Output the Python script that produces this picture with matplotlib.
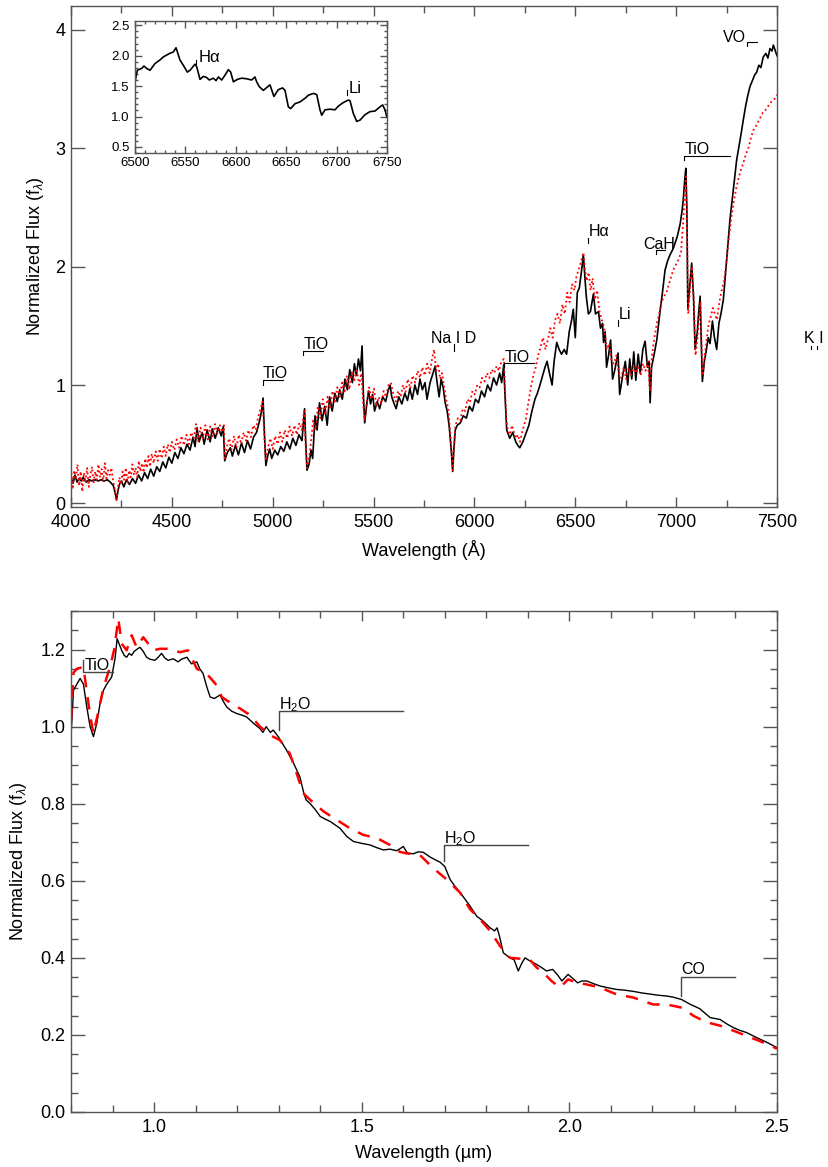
import matplotlib
matplotlib.use("Agg")
import matplotlib.pyplot as plt
from matplotlib.ticker import MultipleLocator, FormatStrFormatter

plt.rcParams['font.family'] = ['Liberation Sans Narrow', 'Liberation Sans', 'DejaVu Sans']
plt.rcParams['mathtext.fontset'] = 'custom'
plt.rcParams['mathtext.rm'] = 'Liberation Sans'
plt.rcParams['mathtext.it'] = 'Liberation Sans:italic'
plt.rcParams['mathtext.bf'] = 'Liberation Sans:bold'

# ---------------- optical spectrum (Angstrom) ----------------
opt_wave = [4000, 4010, 4020, 4030, 4040, 4050, 4060, 4075, 4090, 4105, 4120, 4135, 4150, 4165, 4180, 4195,
            4210, 4220, 4226, 4232, 4240, 4250, 4262, 4275, 4290, 4305, 4320, 4335, 4350, 4365, 4380, 4395,
            4410, 4425, 4440, 4455, 4470, 4485, 4500, 4515, 4530, 4545, 4560, 4575, 4590, 4605, 4615, 4625,
            4635, 4650, 4660, 4675, 4690, 4700, 4715, 4730, 4745, 4755, 4762, 4775, 4790, 4800, 4815, 4830,
            4845, 4860, 4875, 4890, 4905, 4920, 4935, 4945, 4952, 4960, 4966, 4975, 4985, 4995, 5010, 5025,
            5040, 5055, 5070, 5085, 5100, 5115, 5130, 5145, 5158, 5163, 5170, 5180, 5190, 5198, 5210, 5220,
            5232, 5245, 5258, 5270, 5282, 5295, 5308, 5320, 5332, 5345, 5358, 5370, 5382, 5395, 5405, 5415,
            5425, 5435, 5443, 5450, 5456, 5465, 5475, 5485, 5495, 5505, 5518, 5530, 5545, 5560, 5572, 5582,
            5590, 5600, 5612, 5625, 5640, 5655, 5668, 5680, 5692, 5705, 5718, 5730, 5742, 5755, 5765, 5780,
            5795, 5805, 5815, 5825, 5835, 5845, 5855, 5865, 5875, 5885, 5892, 5898, 5905, 5915, 5930, 5945,
            5960, 5975, 5990, 6005, 6020, 6035, 6050, 6065, 6080, 6095, 6110, 6125, 6135, 6145, 6152, 6160,
            6175, 6190, 6205, 6215, 6225, 6240, 6255, 6270, 6285, 6300, 6312, 6325, 6338, 6350, 6360, 6372,
            6385, 6395, 6408, 6420, 6432, 6445, 6457, 6470, 6482, 6490, 6500, 6510, 6520, 6530, 6540, 6548,
            6555, 6565, 6575, 6590, 6600, 6615, 6625, 6635, 6640, 6648, 6655, 6665, 6675, 6685, 6695, 6712,
            6720, 6735, 6748, 6760, 6770, 6780, 6790, 6800, 6812, 6822, 6835, 6846, 6858, 6866, 6871, 6878,
            6890, 6904, 6912, 6920, 6932, 6945, 6958, 6970, 6985, 6995, 7005, 7020, 7030, 7036, 7042, 7048,
            7053, 7058, 7066, 7077, 7086, 7094, 7105, 7112, 7119, 7124, 7130, 7140, 7150, 7159, 7168, 7180,
            7190, 7201, 7212, 7222, 7234, 7245, 7255, 7267, 7280, 7290, 7300, 7312, 7322, 7333, 7345, 7356,
            7366, 7378, 7390, 7399, 7410, 7420, 7432, 7445, 7455, 7465, 7475, 7482, 7490, 7500]
opt_flux = [0.22, 0.17, 0.24, 0.18, 0.21, 0.19, 0.22, 0.18, 0.20, 0.19, 0.20, 0.19, 0.20, 0.19, 0.20, 0.18,
            0.15, 0.08, 0.03, 0.10, 0.16, 0.19, 0.14, 0.20, 0.16, 0.21, 0.17, 0.24, 0.19, 0.26, 0.21, 0.29,
            0.23, 0.31, 0.27, 0.35, 0.30, 0.39, 0.34, 0.43, 0.38, 0.47, 0.42, 0.50, 0.45, 0.56, 0.48, 0.64,
            0.52, 0.60, 0.50, 0.62, 0.52, 0.63, 0.55, 0.64, 0.57, 0.65, 0.36, 0.43, 0.47, 0.40, 0.49, 0.41,
            0.51, 0.43, 0.53, 0.46, 0.56, 0.60, 0.70, 0.78, 0.89, 0.55, 0.32, 0.40, 0.46, 0.38, 0.45, 0.41,
            0.48, 0.44, 0.52, 0.46, 0.55, 0.49, 0.58, 0.53, 0.80, 0.55, 0.28, 0.33, 0.45, 0.38, 0.74, 0.62,
            0.85, 0.70, 0.82, 0.66, 0.90, 0.78, 0.93, 0.86, 0.96, 0.88, 1.05, 0.96, 1.13, 1.02, 1.18, 1.08,
            1.22, 1.12, 1.33, 0.90, 0.68, 0.82, 0.95, 0.84, 0.92, 0.78, 0.86, 0.80, 0.90, 0.86, 0.95, 1.00,
            0.90, 0.85, 0.80, 0.90, 0.84, 0.93, 0.87, 0.97, 0.88, 1.00, 0.92, 1.05, 0.96, 1.02, 0.88, 1.02,
            1.10, 1.16, 1.02, 0.90, 1.05, 0.98, 0.85, 0.78, 0.65, 0.45, 0.27, 0.45, 0.62, 0.66, 0.68, 0.74,
            0.72, 0.82, 0.78, 0.88, 0.85, 0.95, 0.90, 1.00, 0.95, 1.06, 1.00, 1.10, 1.02, 1.17, 0.90, 0.62,
            0.55, 0.60, 0.52, 0.49, 0.47, 0.52, 0.59, 0.66, 0.78, 0.88, 0.93, 1.00, 1.08, 1.15, 1.20, 1.10,
            1.00, 1.20, 1.36, 1.30, 1.26, 1.30, 1.26, 1.45, 1.55, 1.64, 1.40, 1.78, 1.82, 1.95, 2.10, 1.90,
            1.74, 1.60, 1.62, 1.77, 1.60, 1.62, 1.48, 1.52, 1.36, 1.45, 1.15, 1.25, 1.38, 1.05, 1.12, 1.27,
            0.92, 1.08, 1.20, 1.00, 1.22, 1.05, 1.28, 1.04, 1.26, 1.10, 1.30, 1.37, 1.15, 1.20, 0.85, 1.15,
            1.25, 1.38, 1.50, 1.62, 1.78, 1.97, 2.05, 2.10, 2.15, 2.20, 2.25, 2.36, 2.48, 2.58, 2.72, 2.83,
            2.50, 1.64, 1.80, 2.03, 1.75, 1.30, 1.45, 1.62, 1.75, 1.40, 1.03, 1.20, 1.30, 1.40, 1.35, 1.54,
            1.40, 1.30, 1.52, 1.60, 1.72, 1.95, 2.15, 2.40, 2.60, 2.75, 2.90, 3.02, 3.12, 3.24, 3.36, 3.45,
            3.52, 3.57, 3.62, 3.64, 3.70, 3.68, 3.77, 3.80, 3.76, 3.84, 3.82, 3.87, 3.83, 3.78]

tmpl_wave = [4000, 4008, 4016, 4024, 4032, 4040, 4048, 4056, 4064, 4072, 4080, 4088, 4096, 4104, 4112, 4120,
             4128, 4136, 4144, 4152, 4160, 4168, 4176, 4184, 4192, 4200, 4208, 4216, 4224, 4232, 4240, 4248,
             4256, 4264, 4272, 4280, 4288, 4296, 4304, 4312, 4320, 4328, 4336, 4344, 4352, 4360, 4368, 4376,
             4384, 4392, 4400, 4410, 4420, 4430, 4440, 4450, 4460, 4470, 4480, 4490, 4500, 4512, 4524, 4536,
             4548, 4560, 4572, 4584, 4596, 4608, 4620, 4630, 4642, 4654, 4666, 4678, 4690, 4702, 4714, 4726,
             4738, 4750, 4758, 4763, 4772, 4784, 4796, 4808, 4820, 4832, 4844, 4856, 4868, 4880, 4892, 4904,
             4916, 4928, 4940, 4950, 4958, 4966, 4976, 4988, 5000, 5012, 5024, 5036, 5048, 5060, 5072, 5084,
             5096, 5108, 5120, 5132, 5144, 5156, 5163, 5170, 5180, 5190, 5200, 5212, 5224, 5236, 5248, 5260,
             5272, 5284, 5296, 5308, 5320, 5332, 5344, 5356, 5368, 5380, 5392, 5404, 5416, 5428, 5440, 5448,
             5456, 5466, 5478, 5490, 5502, 5514, 5526, 5538, 5550, 5562, 5574, 5586, 5598, 5610, 5622, 5634,
             5646, 5658, 5670, 5682, 5694, 5706, 5718, 5730, 5742, 5754, 5766, 5778, 5790, 5800, 5810, 5820,
             5830, 5840, 5850, 5860, 5870, 5880, 5888, 5893, 5898, 5906, 5918, 5930, 5942, 5954, 5966, 5978,
             5990, 6002, 6014, 6026, 6038, 6050, 6062, 6074, 6086, 6098, 6110, 6122, 6134, 6146, 6152, 6158,
             6166, 6176, 6186, 6196, 6206, 6216, 6226, 6236, 6246, 6256, 6268, 6280, 6292, 6304, 6316, 6328,
             6340, 6352, 6364, 6376, 6388, 6400, 6412, 6424, 6436, 6448, 6460, 6472, 6484, 6496, 6506, 6518,
             6530, 6540, 6548, 6556, 6566, 6576, 6586, 6596, 6608, 6620, 6632, 6644, 6656, 6668, 6680, 6692,
             6704, 6716, 6728, 6740, 6752, 6764, 6776, 6788, 6800, 6812, 6824, 6836, 6848, 6860, 6870, 6880,
             6892, 6904, 6916, 6928, 6940, 6952, 6964, 6976, 6988, 7000, 7012, 7024, 7034, 7042, 7048, 7054,
             7060, 7070, 7078, 7088, 7096, 7106, 7114, 7120, 7126, 7132, 7142, 7152, 7162, 7172, 7182, 7192,
             7202, 7214, 7226, 7238, 7250, 7262, 7274, 7286, 7298, 7310, 7322, 7334, 7346, 7358, 7370, 7382,
             7394, 7406, 7418, 7430, 7442, 7454, 7466, 7478, 7490, 7500]
tmpl_flux = [0.30, 0.12, 0.28, 0.20, 0.33, 0.15, 0.27, 0.10, 0.26, 0.18, 0.30, 0.14, 0.24, 0.31, 0.17, 0.27,
             0.20, 0.33, 0.22, 0.29, 0.18, 0.34, 0.21, 0.28, 0.24, 0.30, 0.20, 0.13, 0.02, 0.12, 0.22, 0.16,
             0.27, 0.20, 0.30, 0.17, 0.28, 0.22, 0.33, 0.24, 0.30, 0.22, 0.36, 0.27, 0.34, 0.26, 0.38, 0.30,
             0.40, 0.31, 0.42, 0.34, 0.44, 0.36, 0.46, 0.38, 0.48, 0.40, 0.50, 0.43, 0.52, 0.45, 0.54, 0.47,
             0.57, 0.49, 0.58, 0.50, 0.60, 0.55, 0.67, 0.52, 0.64, 0.55, 0.66, 0.54, 0.65, 0.56, 0.67, 0.59,
             0.66, 0.60, 0.66, 0.38, 0.47, 0.55, 0.45, 0.57, 0.47, 0.58, 0.50, 0.60, 0.53, 0.62, 0.56, 0.66,
             0.62, 0.73, 0.80, 0.86, 0.58, 0.36, 0.47, 0.55, 0.46, 0.57, 0.50, 0.60, 0.52, 0.62, 0.55, 0.65,
             0.57, 0.66, 0.58, 0.68, 0.62, 0.78, 0.50, 0.30, 0.38, 0.52, 0.70, 0.62, 0.82, 0.72, 0.88, 0.75,
             0.90, 0.80, 0.95, 0.86, 0.98, 0.90, 1.02, 0.93, 1.08, 0.96, 1.12, 1.03, 1.14, 1.00, 1.10, 0.85,
             0.70, 0.85, 0.98, 0.88, 0.97, 0.82, 0.90, 0.84, 0.95, 0.90, 1.00, 1.02, 0.92, 0.86, 0.95, 0.90,
             1.00, 0.94, 1.05, 0.97, 1.08, 1.02, 1.12, 1.06, 1.15, 1.08, 1.18, 1.10, 1.22, 1.30, 1.12, 1.18,
             1.05, 1.10, 0.98, 0.88, 0.80, 0.60, 0.40, 0.28, 0.48, 0.66, 0.72, 0.70, 0.80, 0.78, 0.88, 0.85,
             0.95, 0.92, 1.00, 0.98, 1.06, 1.03, 1.10, 1.06, 1.13, 1.10, 1.16, 1.12, 1.20, 1.22, 0.95, 0.70,
             0.62, 0.58, 0.66, 0.60, 0.55, 0.58, 0.52, 0.60, 0.66, 0.72, 0.86, 0.98, 1.08, 1.15, 1.25, 1.32,
             1.40, 1.30, 1.38, 1.48, 1.40, 1.55, 1.60, 1.52, 1.68, 1.60, 1.78, 1.70, 1.85, 1.80, 1.92, 1.98,
             2.05, 2.12, 1.98, 1.88, 1.95, 1.80, 1.90, 1.72, 1.80, 1.62, 1.55, 1.48, 1.30, 1.35, 1.20, 1.18,
             1.25, 1.10, 1.06, 1.15, 1.05, 1.14, 1.08, 1.16, 1.10, 1.15, 1.08, 1.18, 1.12, 1.20, 0.95, 1.25,
             1.40, 1.52, 1.60, 1.70, 1.75, 1.78, 1.85, 1.92, 1.98, 2.02, 2.06, 2.12, 2.35, 2.60, 2.76, 2.30,
             1.60, 1.85, 2.00, 1.70, 1.25, 1.40, 1.58, 1.70, 1.35, 1.08, 1.25, 1.40, 1.52, 1.58, 1.65, 1.60,
             1.55, 1.70, 1.80, 1.88, 2.05, 2.25, 2.42, 2.55, 2.66, 2.75, 2.82, 2.88, 2.95, 3.00, 3.08, 3.15,
             3.18, 3.22, 3.26, 3.30, 3.32, 3.35, 3.38, 3.40, 3.42, 3.45]

# ---------------- H-alpha / Li zoom (Angstrom) ----------------
zoom_wave = [6500.0, 6502.3, 6506.6, 6508.9, 6511.6, 6514.9, 6519.8, 6524.8, 6528.1, 6531.4, 6534.7, 6538.0,
             6540.7, 6544.6, 6548.0, 6551.9, 6554.6, 6559.5, 6561.2, 6564.5, 6567.8, 6571.1, 6573.7, 6577.7,
             6580.4, 6582.7, 6586.0, 6589.3, 6592.6, 6594.9, 6597.6, 6601.5, 6605.8, 6610.8, 6615.7, 6619.0,
             6620.7, 6623.3, 6627.3, 6633.9, 6637.8, 6642.1, 6646.4, 6648.8, 6652.1, 6654.4, 6658.7, 6663.7,
             6668.7, 6672.0, 6677.0, 6680.3, 6683.5, 6685.2, 6688.5, 6693.5, 6698.4, 6701.7, 6706.7, 6711.6,
             6713.3, 6716.6, 6719.9, 6723.2, 6728.2, 6733.1, 6738.1, 6743.1, 6745.7, 6748.0, 6749.7]
zoom_flux = [1.57, 1.76, 1.79, 1.83, 1.79, 1.76, 1.87, 1.93, 1.98, 2.01, 2.04, 2.06,
             2.13, 1.93, 1.84, 1.73, 1.76, 1.86, 1.82, 1.61, 1.66, 1.64, 1.60, 1.63,
             1.59, 1.65, 1.60, 1.68, 1.77, 1.73, 1.57, 1.61, 1.63, 1.62, 1.60, 1.65,
             1.57, 1.49, 1.43, 1.52, 1.33, 1.44, 1.47, 1.43, 1.16, 1.13, 1.21, 1.24,
             1.30, 1.35, 1.38, 1.36, 1.11, 1.02, 1.11, 1.12, 1.11, 1.17, 1.23, 1.27,
             1.26, 1.05, 0.92, 0.94, 1.03, 1.08, 1.09, 1.16, 1.19, 1.11, 1.00]

# ---------------- near-infrared spectrum (micron) ----------------
nir_wave = [0.800, 0.806, 0.814, 0.822, 0.830, 0.838, 0.846, 0.854, 0.862, 0.870, 0.878, 0.886, 0.898, 0.906,
            0.911, 0.922, 0.928, 0.934, 0.940, 0.946, 0.952, 0.958, 0.966, 0.974, 0.982, 0.990, 1.002, 1.010,
            1.018, 1.026, 1.034, 1.046, 1.058, 1.066, 1.079, 1.090, 1.103, 1.110, 1.118, 1.127, 1.135, 1.145,
            1.159, 1.167, 1.175, 1.187, 1.199, 1.211, 1.223, 1.240, 1.255, 1.262, 1.270, 1.280, 1.287, 1.299,
            1.319, 1.335, 1.351, 1.360, 1.366, 1.376, 1.388, 1.400, 1.412, 1.424, 1.436, 1.448, 1.464, 1.480,
            1.500, 1.520, 1.536, 1.552, 1.568, 1.584, 1.592, 1.600, 1.610, 1.624, 1.636, 1.648, 1.664, 1.676,
            1.689, 1.700, 1.713, 1.725, 1.737, 1.749, 1.761, 1.777, 1.793, 1.809, 1.820, 1.826, 1.832, 1.841,
            1.857, 1.867, 1.877, 1.885, 1.893, 1.905, 1.921, 1.933, 1.945, 1.960, 1.972, 1.982, 1.997, 2.010,
            2.020, 2.030, 2.042, 2.058, 2.074, 2.094, 2.114, 2.134, 2.154, 2.174, 2.194, 2.214, 2.234, 2.250,
            2.270, 2.290, 2.314, 2.339, 2.363, 2.380, 2.395, 2.410, 2.427, 2.451, 2.475, 2.500]
nir_flux = [0.974, 1.094, 1.110, 1.125, 1.110, 1.051, 1.000, 0.974, 1.008, 1.060, 1.094, 1.110, 1.129, 1.176,
            1.228, 1.198, 1.185, 1.180, 1.190, 1.185, 1.195, 1.200, 1.206, 1.195, 1.180, 1.175, 1.172, 1.180,
            1.190, 1.178, 1.172, 1.176, 1.168, 1.175, 1.180, 1.163, 1.168, 1.150, 1.138, 1.103, 1.077, 1.073,
            1.082, 1.065, 1.051, 1.040, 1.034, 1.030, 1.025, 1.008, 0.995, 0.985, 1.000, 0.985, 0.991, 0.974,
            0.939, 0.907, 0.870, 0.830, 0.810, 0.800, 0.785, 0.767, 0.760, 0.754, 0.745, 0.736, 0.715, 0.702,
            0.697, 0.693, 0.686, 0.680, 0.682, 0.678, 0.683, 0.689, 0.672, 0.670, 0.675, 0.674, 0.662, 0.655,
            0.648, 0.637, 0.603, 0.585, 0.569, 0.552, 0.534, 0.508, 0.495, 0.478, 0.470, 0.478, 0.455, 0.413,
            0.400, 0.395, 0.366, 0.385, 0.400, 0.392, 0.383, 0.375, 0.366, 0.370, 0.355, 0.340, 0.357, 0.345,
            0.335, 0.340, 0.340, 0.333, 0.327, 0.322, 0.318, 0.316, 0.313, 0.309, 0.306, 0.303, 0.301, 0.298,
            0.292, 0.280, 0.268, 0.245, 0.240, 0.228, 0.219, 0.212, 0.206, 0.193, 0.181, 0.167]

nir_tmpl_wave = [0.800, 0.806, 0.814, 0.830, 0.838, 0.846, 0.854, 0.864, 0.878, 0.894, 0.904, 0.914, 0.922,
                 0.934, 0.946, 0.958, 0.974, 0.986, 0.998, 1.014, 1.038, 1.062, 1.082, 1.103, 1.127, 1.151,
                 1.163, 1.175, 1.207, 1.231, 1.255, 1.279, 1.303, 1.327, 1.343, 1.359, 1.376, 1.408, 1.440,
                 1.472, 1.504, 1.536, 1.568, 1.592, 1.608, 1.640, 1.672, 1.705, 1.737, 1.761, 1.785, 1.809,
                 1.833, 1.857, 1.880, 1.905, 1.921, 1.937, 1.957, 1.977, 1.997, 2.020, 2.042, 2.074, 2.114,
                 2.154, 2.202, 2.234, 2.274, 2.298, 2.330, 2.363, 2.395, 2.435, 2.475, 2.500]
nir_tmpl_flux = [1.017, 1.140, 1.150, 1.155, 1.090, 1.030, 0.982, 1.030, 1.100, 1.155, 1.200, 1.280, 1.215,
                 1.198, 1.237, 1.206, 1.232, 1.215, 1.198, 1.202, 1.202, 1.193, 1.198, 1.150, 1.137, 1.107,
                 1.077, 1.068, 1.047, 1.030, 1.000, 0.978, 0.965, 0.930, 0.880, 0.827, 0.810, 0.780, 0.758,
                 0.736, 0.719, 0.711, 0.693, 0.675, 0.671, 0.667, 0.633, 0.603, 0.569, 0.526, 0.500, 0.470,
                 0.431, 0.400, 0.398, 0.395, 0.375, 0.362, 0.340, 0.323, 0.344, 0.335, 0.331, 0.323, 0.305,
                 0.297, 0.279, 0.279, 0.270, 0.250, 0.233, 0.224, 0.211, 0.194, 0.177, 0.164]

# feature labels: (label, x0, x1, y_bar, y_end, text x, text y, alignment)
opt_bands = [("TiO", 4950, 5050, 1.044, 1.000, 4950, 1.055, "left"),
             ("TiO", 5152, 5251, 1.291, 1.257, 5152, 1.302, "left"),
             ("TiO", 6149, 6297, 1.187, 1.150, 6149, 1.198, "left"),
             ("CaH", 6900, 6945, 2.143, 2.107, 6918, 2.150, "center"),
             ("TiO", 7041, 7267, 2.937, 2.903, 7041, 2.948, "left"),
             ("VO", 7350, 7400, 3.893, 3.859, 7346, 3.895, "right")]
opt_lines = [("Na I D", 5897, 1.345, 1.290, 5895, 1.356, "center"),
             ("H\u03b1", 6562, 2.245, 2.200, 6567, 2.255, "left"),
             ("Li", 6710, 1.550, 1.500, 6714, 1.560, "left")]
zoom_lines = [("H\u03b1", 6561, 1.93, 1.86, 6563, 1.90),
              ("Li", 6710, 1.43, 1.35, 6712, 1.38)]
nir_bands = [("TiO", 0.830, 0.900, 1.142, 1.172, 0.834, 1.146),
             ("H$_2$O", 1.300, 1.600, 1.040, 0.991, 1.300, 1.046),
             ("H$_2$O", 1.699, 1.900, 0.692, 0.652, 1.699, 0.698),
             ("CO", 2.270, 2.399, 0.351, 0.301, 2.270, 0.357)]

SPINE = '#555555'


def style_axes(ax, major_len_x, minor_len_x, major_len_y, minor_len_y, size):
    for s in ax.spines.values():
        s.set_color(SPINE)
        s.set_linewidth(1.0)
    ax.tick_params(axis='both', which='both', direction='in', top=True, right=True,
                   color=SPINE, width=1.0, labelsize=size)
    ax.tick_params(axis='x', which='major', length=major_len_x, pad=5)
    ax.tick_params(axis='x', which='minor', length=minor_len_x)
    ax.tick_params(axis='y', which='major', length=major_len_y, pad=4)
    ax.tick_params(axis='y', which='minor', length=minor_len_y)


fig = plt.figure(figsize=(8.29, 11.67), dpi=100)

# ---------------- top panel ----------------
ax1 = fig.add_axes([71 / 829, 1 - 507 / 1167, 706 / 829, 501 / 1167])
ax1.plot(opt_wave, opt_flux, color='black', lw=1.2)
ax1.plot(tmpl_wave, tmpl_flux, color='red', lw=1.3, linestyle=(0, (1, 1.6)))
ax1.set_xlim(4000, 7500)
ax1.set_ylim(-0.03, 4.2)
ax1.xaxis.set_major_locator(MultipleLocator(500))
ax1.xaxis.set_minor_locator(MultipleLocator(250))
ax1.yaxis.set_major_locator(MultipleLocator(1))
style_axes(ax1, 7, 5, 10, 0, 13)
ax1.set_xlabel("Wavelength (\u00c5)", fontsize=13)
ax1.set_ylabel("Normalized Flux (f$_{\\lambda}$)", fontsize=13)
ax1.xaxis.set_label_coords(0.5, -0.066)
ax1.yaxis.set_label_coords(-0.036, 0.5)

for lab, x0, x1, yb, ye, tx, ty, ha in opt_bands:
    ax1.plot([x0, x0, x1], [ye, yb, yb], color='black', lw=0.8)
    ax1.text(tx, ty, lab, ha=ha, va='baseline', fontsize=11.5)
for lab, x, y0, y1, tx, ty, ha in opt_lines:
    ax1.plot([x, x], [y1, y0], color='black', lw=0.8)
    ax1.text(tx, ty, lab, ha=ha, va='baseline', fontsize=11.5)
# K I doublet, beyond the plotted range
ax1.plot([7667, 7667], [1.30, 1.33], color='black', lw=0.8, clip_on=False)
ax1.plot([7699, 7699], [1.30, 1.33], color='black', lw=0.8, clip_on=False)
ax1.text(7684, 1.356, "K I", ha='center', va='baseline', fontsize=11.5, clip_on=False)

# ---------------- inset ----------------
axi = fig.add_axes([135 / 829, 1 - 153 / 1167, 252 / 829, 132 / 1167])
axi.plot(zoom_wave, zoom_flux, color='black', lw=1.2)
axi.set_xlim(6500, 6750)
axi.set_ylim(0.4, 2.57)
axi.xaxis.set_major_locator(MultipleLocator(50))
axi.xaxis.set_minor_locator(MultipleLocator(10))
axi.yaxis.set_major_locator(MultipleLocator(0.5))
axi.yaxis.set_minor_locator(MultipleLocator(0.1))
axi.yaxis.set_major_formatter(FormatStrFormatter('%.1f'))
style_axes(axi, 5, 2, 5, 2, 9.5)
axi.tick_params(axis='x', which='major', pad=3)
for lab, x, y0, y1, tx, ty in zoom_lines:
    axi.plot([x, x], [y1, y0], color='black', lw=0.8)
    axi.text(tx, ty, lab, ha='left', va='baseline', fontsize=12)

# ---------------- bottom panel ----------------
ax2 = fig.add_axes([71 / 829, 1 - 1112 / 1167, 706 / 829, 501 / 1167])
ax2.plot(nir_wave, nir_flux, color='black', lw=1.0)
ax2.plot(nir_tmpl_wave, nir_tmpl_flux, color='red', lw=1.8, linestyle=(0, (5, 4)))
ax2.set_xlim(0.8, 2.5)
ax2.set_ylim(0.0, 1.3)
ax2.xaxis.set_major_locator(MultipleLocator(0.5))
ax2.xaxis.set_minor_locator(MultipleLocator(0.1))
ax2.yaxis.set_major_locator(MultipleLocator(0.2))
ax2.yaxis.set_minor_locator(MultipleLocator(0.05))
ax2.xaxis.set_major_formatter(FormatStrFormatter('%.1f'))
ax2.yaxis.set_major_formatter(FormatStrFormatter('%.1f'))
style_axes(ax2, 7, 5, 10, 5, 13)
ax2.set_xlabel("Wavelength (\u00b5m)", fontsize=13)
ax2.set_ylabel("Normalized Flux (f$_{\\lambda}$)", fontsize=13)
ax2.xaxis.set_label_coords(0.5, -0.066)
ax2.yaxis.set_label_coords(-0.060, 0.5)

for lab, x0, x1, yb, ye, tx, ty in nir_bands:
    ax2.plot([x0, x0, x1], [ye, yb, yb], color='#444444', lw=1.0)
    ax2.text(tx, ty, lab, ha='left', va='baseline', fontsize=11.5)

fig.savefig("out.png", dpi=100)
